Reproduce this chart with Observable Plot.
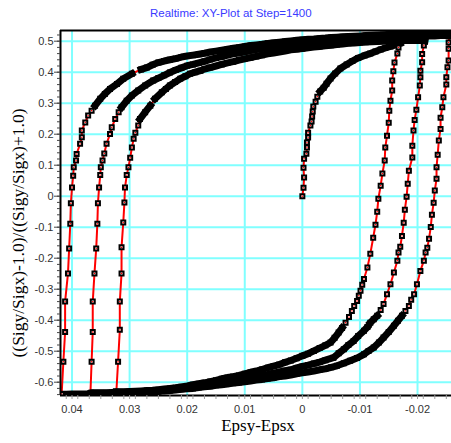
<!DOCTYPE html>
<html>
<head>
<meta charset="utf-8">
<script src="https://cdn.jsdelivr.net/npm/d3@7"></script>
<script src="https://cdn.jsdelivr.net/npm/@observablehq/plot@0.6"></script>
<style>
  html, body { margin: 0; padding: 0; background: #fff; }
  #chart { position: relative; width: 451px; height: 443px; overflow: hidden; background: #fff; }
  #title {
    position: relative; height: 22px; line-height: 22px; padding-top: 2px; box-sizing: border-box;
    font-family: "Liberation Sans", Arial, sans-serif; font-size: 11.5px; color: #3a3aff;
    white-space: nowrap; padding-left: 150px;
  }
  #chart svg { display: block; }
</style>
</head>
<body>
<div id="chart">
  <div id="title">Realtime: XY-Plot at Step=1400</div>
</div>
<script>
// Stress ratio vs. strain difference, sampled at each recorded step.
// Each branch is a list of [Epsy-Epsx, (Sigy/Sigx-1)/(Sigy/Sigx+1)] pairs.

// First loading from the origin
const loading0 = [
  [0, 0], [-0.0002, 0.027], [-0.0003, 0.060], [-0.0002, 0.092], [-0.0003, 0.121],
  [-0.0007, 0.137], [-0.0008, 0.157], [-0.0008, 0.173], [-0.0010, 0.189], [-0.0010, 0.205],
  [-0.0014, 0.228], [-0.0016, 0.241], [-0.0017, 0.257], [-0.0018, 0.273], [-0.0019, 0.289],
  [-0.0023, 0.305], [-0.0026, 0.321], [-0.0031, 0.338], [-0.0037, 0.350], [-0.0042, 0.363],
  [-0.0049, 0.380], [-0.0057, 0.396], [-0.0066, 0.412], [-0.0077, 0.425], [-0.0087, 0.436],
  [-0.0097, 0.446], [-0.0108, 0.454], [-0.0118, 0.460], [-0.0127, 0.467], [-0.0136, 0.473],
  [-0.0144, 0.478], [-0.0153, 0.483], [-0.0162, 0.488], [-0.0170, 0.493]
];

// First unloading
const unload1 = [
  [-0.0167, 0.480], [-0.0165, 0.460], [-0.0160, 0.431], [-0.0158, 0.403], [-0.0156, 0.373],
  [-0.0156, 0.341], [-0.0153, 0.308], [-0.0151, 0.276], [-0.0150, 0.237], [-0.0147, 0.195],
  [-0.0144, 0.157], [-0.0143, 0.115], [-0.0139, 0.073], [-0.0136, 0.034], [-0.0132, -0.008],
  [-0.0130, -0.050], [-0.0127, -0.092], [-0.0123, -0.134], [-0.0118, -0.186], [-0.0113, -0.230],
  [-0.0107, -0.267], [-0.0104, -0.286], [-0.0101, -0.305], [-0.0098, -0.321], [-0.0095, -0.338],
  [-0.0090, -0.354], [-0.0086, -0.370], [-0.0081, -0.390], [-0.0075, -0.408], [-0.0069, -0.425],
  [-0.0063, -0.440], [-0.0056, -0.457], [-0.0049, -0.472], [-0.004, -0.481], [-0.003, -0.490],
  [-0.002, -0.499], [-0.001, -0.508], [0, -0.515], [0.001, -0.523], [0.002, -0.530],
  [0.003, -0.536], [0.004, -0.543], [0.005, -0.548], [0.006, -0.553], [0.007, -0.559],
  [0.008, -0.564], [0.009, -0.568], [0.010, -0.573], [0.011, -0.578], [0.012, -0.582],
  [0.013, -0.585], [0.014, -0.589], [0.015, -0.594], [0.016, -0.598], [0.017, -0.602],
  [0.018, -0.605], [0.019, -0.608], [0.020, -0.612], [0.021, -0.615], [0.022, -0.618],
  [0.023, -0.620], [0.024, -0.622], [0.025, -0.624], [0.026, -0.626], [0.027, -0.627],
  [0.028, -0.628], [0.029, -0.629], [0.030, -0.630], [0.031, -0.631], [0.032, -0.631]
];

// First reloading
const reload1 = [
  [0.0323, -0.631], [0.0320, -0.534], [0.0317, -0.431], [0.0317, -0.340], [0.0314, -0.249],
  [0.0314, -0.165], [0.0311, -0.085], [0.0309, -0.020], [0.0308, 0.028], [0.0305, 0.068],
  [0.0302, 0.093], [0.0299, 0.124], [0.0296, 0.157], [0.0293, 0.185], [0.0290, 0.205],
  [0.0285, 0.228], [0.0282, 0.249], [0.0273, 0.271], [0.0264, 0.292], [0.0256, 0.314],
  [0.0244, 0.335], [0.0237, 0.346], [0.0230, 0.357], [0.0221, 0.368], [0.0212, 0.379],
  [0.0203, 0.387], [0.0195, 0.395], [0.0186, 0.400], [0.0177, 0.405], [0.017, 0.410],
  [0.016, 0.415], [0.015, 0.420], [0.014, 0.425], [0.013, 0.430], [0.012, 0.434],
  [0.011, 0.439], [0.010, 0.443], [0.009, 0.447], [0.008, 0.451], [0.007, 0.455],
  [0.006, 0.459], [0.005, 0.462], [0.004, 0.465], [0.003, 0.468], [0.002, 0.472],
  [0.001, 0.474], [0, 0.476], [-0.001, 0.479], [-0.002, 0.481], [-0.003, 0.483],
  [-0.004, 0.485], [-0.005, 0.487], [-0.006, 0.489], [-0.007, 0.491], [-0.008, 0.493],
  [-0.009, 0.494], [-0.010, 0.496], [-0.011, 0.497], [-0.012, 0.498], [-0.013, 0.499],
  [-0.014, 0.500], [-0.015, 0.501], [-0.016, 0.501], [-0.017, 0.502], [-0.018, 0.502],
  [-0.019, 0.502], [-0.020, 0.502], [-0.021, 0.502], [-0.0213, 0.501]
];

// Second unloading
const unload2 = [
  [-0.0211, 0.486], [-0.0208, 0.459], [-0.0208, 0.432], [-0.0205, 0.405], [-0.0205, 0.384],
  [-0.0204, 0.357], [-0.0201, 0.319], [-0.0198, 0.279], [-0.0195, 0.246], [-0.0193, 0.212],
  [-0.0191, 0.163], [-0.0191, 0.125], [-0.0185, 0.082], [-0.0183, 0.040], [-0.0181, -0.002],
  [-0.0178, -0.044], [-0.0176, -0.086], [-0.0173, -0.128], [-0.0170, -0.163], [-0.0167, -0.182],
  [-0.0165, -0.208], [-0.0159, -0.246], [-0.0153, -0.284], [-0.0147, -0.316], [-0.0141, -0.348],
  [-0.0136, -0.367], [-0.0130, -0.386], [-0.0124, -0.397], [-0.0118, -0.408], [-0.0113, -0.422],
  [-0.0107, -0.434], [-0.0097, -0.451], [-0.0089, -0.467], [-0.0080, -0.480], [-0.0072, -0.494],
  [-0.0063, -0.507], [-0.0054, -0.521], [-0.004, -0.529], [-0.003, -0.535], [-0.002, -0.540],
  [-0.001, -0.545], [0, -0.549], [0.001, -0.554], [0.002, -0.560], [0.003, -0.563],
  [0.004, -0.567], [0.005, -0.571], [0.006, -0.575], [0.007, -0.578], [0.008, -0.582],
  [0.009, -0.586], [0.010, -0.589], [0.011, -0.593], [0.012, -0.596], [0.013, -0.599],
  [0.014, -0.602], [0.015, -0.605], [0.016, -0.608], [0.017, -0.610], [0.018, -0.613],
  [0.019, -0.616], [0.020, -0.619], [0.021, -0.621], [0.022, -0.623], [0.023, -0.625],
  [0.024, -0.626], [0.025, -0.628], [0.026, -0.629], [0.027, -0.630], [0.028, -0.631],
  [0.029, -0.631], [0.030, -0.632], [0.031, -0.633], [0.032, -0.633], [0.033, -0.633],
  [0.034, -0.634], [0.035, -0.634], [0.036, -0.634], [0.0367, -0.634]
];

// Second reloading
const reload2 = [
  [0.0368, -0.635], [0.0366, -0.534], [0.0364, -0.438], [0.0364, -0.340], [0.0361, -0.249],
  [0.0358, -0.169], [0.0356, -0.089], [0.0355, -0.023], [0.0353, 0.028], [0.0351, 0.068],
  [0.0350, 0.093], [0.0347, 0.115], [0.0344, 0.138], [0.0340, 0.169], [0.0334, 0.201],
  [0.0331, 0.222], [0.0325, 0.249], [0.0319, 0.271], [0.0314, 0.287], [0.0305, 0.308],
  [0.0296, 0.325], [0.0285, 0.341], [0.0273, 0.357], [0.0259, 0.373], [0.025, 0.381],
  [0.024, 0.390], [0.023, 0.399], [0.022, 0.407], [0.021, 0.414], [0.020, 0.421],
  [0.019, 0.425], [0.018, 0.430], [0.017, 0.435], [0.016, 0.441], [0.015, 0.446],
  [0.014, 0.450], [0.013, 0.455], [0.012, 0.459], [0.011, 0.462], [0.010, 0.466],
  [0.009, 0.470], [0.008, 0.473], [0.007, 0.476], [0.006, 0.479], [0.005, 0.482],
  [0.004, 0.484], [0.003, 0.486], [0.002, 0.489], [0.001, 0.491], [0, 0.493],
  [-0.001, 0.495], [-0.002, 0.497], [-0.003, 0.499], [-0.004, 0.500], [-0.005, 0.502],
  [-0.006, 0.503], [-0.007, 0.505], [-0.008, 0.506], [-0.009, 0.507], [-0.010, 0.509],
  [-0.011, 0.510], [-0.012, 0.511], [-0.013, 0.512], [-0.014, 0.513], [-0.015, 0.514],
  [-0.016, 0.515], [-0.017, 0.515], [-0.018, 0.516], [-0.019, 0.516], [-0.020, 0.516],
  [-0.021, 0.517], [-0.022, 0.517], [-0.023, 0.517], [-0.024, 0.518], [-0.025, 0.518],
  [-0.0255, 0.517]
];

// Third unloading
const unload3 = [
  [-0.0254, 0.496], [-0.0254, 0.476], [-0.0254, 0.438], [-0.0252, 0.416], [-0.0250, 0.384],
  [-0.0250, 0.360], [-0.0245, 0.319], [-0.0243, 0.287], [-0.0240, 0.253], [-0.0240, 0.217],
  [-0.0237, 0.180], [-0.0235, 0.134], [-0.0233, 0.093], [-0.0233, 0.056], [-0.0230, 0.018],
  [-0.0228, -0.021], [-0.0225, -0.060], [-0.0223, -0.099], [-0.0220, -0.137], [-0.0217, -0.166],
  [-0.0214, -0.182], [-0.0211, -0.208], [-0.0205, -0.241], [-0.0199, -0.284], [-0.0194, -0.316],
  [-0.0189, -0.334], [-0.0185, -0.354], [-0.0179, -0.370], [-0.0173, -0.386], [-0.0166, -0.402],
  [-0.0159, -0.418], [-0.0150, -0.438], [-0.0141, -0.456], [-0.0133, -0.472], [-0.0124, -0.488],
  [-0.0115, -0.499], [-0.0107, -0.510], [-0.0095, -0.522], [-0.0083, -0.531], [-0.0072, -0.539],
  [-0.0060, -0.547], [-0.005, -0.552], [-0.004, -0.557], [-0.003, -0.560], [-0.002, -0.564],
  [-0.001, -0.567], [0, -0.570], [0.001, -0.573], [0.002, -0.577], [0.003, -0.580],
  [0.004, -0.582], [0.005, -0.586], [0.006, -0.588], [0.007, -0.591], [0.008, -0.593],
  [0.009, -0.596], [0.010, -0.599], [0.011, -0.601], [0.012, -0.603], [0.013, -0.606],
  [0.014, -0.608], [0.015, -0.610], [0.016, -0.613], [0.017, -0.615], [0.018, -0.617],
  [0.019, -0.620], [0.020, -0.621], [0.021, -0.623], [0.022, -0.625], [0.023, -0.627],
  [0.024, -0.628], [0.025, -0.630], [0.026, -0.631], [0.027, -0.632], [0.028, -0.633],
  [0.029, -0.634], [0.030, -0.634], [0.031, -0.635], [0.032, -0.636], [0.033, -0.636],
  [0.034, -0.637], [0.035, -0.637], [0.036, -0.637], [0.037, -0.638], [0.038, -0.638],
  [0.039, -0.638], [0.040, -0.638], [0.041, -0.639], [0.0418, -0.639]
];

// Third reloading (in progress at this step)
const reload3 = [
  [0.0418, -0.638], [0.0415, -0.534], [0.0412, -0.438], [0.0412, -0.340], [0.0407, -0.249],
  [0.0405, -0.169], [0.0403, -0.089], [0.0402, -0.023], [0.0400, 0.028], [0.0398, 0.066],
  [0.0397, 0.093], [0.0393, 0.115], [0.0392, 0.136], [0.0386, 0.169], [0.0383, 0.190],
  [0.0383, 0.212], [0.0377, 0.238], [0.0372, 0.260], [0.0366, 0.276], [0.0360, 0.292],
  [0.0351, 0.314], [0.0343, 0.330], [0.0334, 0.346], [0.0322, 0.362], [0.0311, 0.379],
  [0.0296, 0.395], [0.028, 0.409], [0.027, 0.415], [0.026, 0.424], [0.025, 0.431],
  [0.024, 0.436], [0.023, 0.440], [0.022, 0.444], [0.021, 0.449], [0.020, 0.452],
  [0.019, 0.455], [0.018, 0.458], [0.017, 0.461], [0.016, 0.465], [0.015, 0.468],
  [0.014, 0.471], [0.013, 0.474], [0.012, 0.477], [0.011, 0.480], [0.010, 0.483],
  [0.009, 0.486], [0.008, 0.488], [0.007, 0.490], [0.006, 0.493], [0.005, 0.495],
  [0.004, 0.497], [0.003, 0.499], [0.002, 0.501], [0.001, 0.503], [0, 0.505],
  [-0.001, 0.506], [-0.002, 0.507], [-0.003, 0.509], [-0.004, 0.510], [-0.005, 0.512],
  [-0.006, 0.513], [-0.007, 0.514], [-0.008, 0.515], [-0.009, 0.516], [-0.010, 0.517],
  [-0.011, 0.518], [-0.012, 0.519], [-0.013, 0.520], [-0.014, 0.521], [-0.015, 0.522],
  [-0.016, 0.523], [-0.017, 0.523], [-0.018, 0.524], [-0.019, 0.525], [-0.020, 0.525],
  [-0.021, 0.526], [-0.022, 0.527], [-0.023, 0.527], [-0.024, 0.527], [-0.025, 0.528],
  [-0.026, 0.528]
];

// Axis ticks
const xTicks = [0.04, 0.03, 0.02, 0.01, 0, -0.01, -0.02];
const yTicks = [0.5, 0.4, 0.3, 0.2, 0.1, 0, -0.1, -0.2, -0.3, -0.4, -0.5, -0.6];
const xMinorTicks = d3.range(-25, 42, 2).map(d => d / 1000);
const yMinorTicks = d3.range(-64, 54, 2).map(d => d / 100);

const xTitle = "Epsy-Epsx";
const yTitle = "((Sigy/Sigx)-1.0)/((Sigy/Sigx)+1.0)";

// Whole loading history as one ordered path
const history = [loading0, unload1, reload1, unload2, reload2, unload3, reload3]
  .flat()
  .map(([eps, ratio]) => ({eps, ratio, inBand: false}));

const width = 451, height = 421;
const margin = {left: 60, right: 0, top: 8, bottom: 48};
const xDomain = [0.0420, -0.0259];
const yDomain = [-0.6429, 0.5345];

// Where consecutive steps crowd together along a flat stretch, the square
// markers merge into a solid black band; collect those runs of the path.
const sx = Plot.scale({x: {domain: xDomain, range: [margin.left, width - margin.right]}});
const sy = Plot.scale({y: {domain: yDomain, range: [height - margin.bottom, margin.top]}});
const bands = [];
let run = -1, wasDense = false;
for (let i = 1; i < history.length; i++) {
  const a = history[i - 1], b = history[i];
  const dxp = Math.abs(sx.apply(b.eps) - sx.apply(a.eps));
  const dyp = Math.abs(sy.apply(b.ratio) - sy.apply(a.ratio));
  const dense = Math.hypot(dxp, dyp) < 10 && dxp >= 0.7 * dyp;
  if (dense) {
    a.inBand = b.inBand = true;
    if (!wasDense) { run++; bands.push({...a, run}); }
    bands.push({...b, run});
  }
  wasDense = dense;
}
const bandSteps = history.filter(d => d.inBand);
const openSteps = history.filter(d => !d.inBand);

const sans = "'Liberation Sans', Arial, Helvetica, sans-serif";
const serif = "'Liberation Serif', 'Times New Roman', Times, serif";

const chart = Plot.plot({
  width,
  height,
  marginLeft: margin.left,
  marginRight: margin.right,
  marginTop: margin.top,
  marginBottom: margin.bottom,
  x: {domain: xDomain, label: null},
  y: {domain: yDomain, label: null},
  style: {fontFamily: sans, background: "#fff", overflow: "visible"},
  marks: [
    Plot.gridX(xTicks, {stroke: "#80ffff", strokeOpacity: 1, strokeWidth: 2}),
    Plot.gridY(yTicks, {stroke: "#80ffff", strokeOpacity: 1, strokeWidth: 2}),
    Plot.line(history, {x: "eps", y: "ratio", stroke: "#ff0000", strokeWidth: 2, clip: true}),
    Plot.line(bands, {
      x: "eps", y: "ratio", z: "run", stroke: "#000", strokeWidth: 7,
      strokeLinecap: "square", clip: true
    }),
    Plot.dot(bandSteps, {
      x: "eps", y: "ratio", symbol: "square", r: 2.26,
      stroke: "#000", strokeWidth: 2, fill: "none", clip: true
    }),
    Plot.dot(openSteps, {
      x: "eps", y: "ratio", symbol: "square", r: 2.26,
      stroke: "#000", strokeWidth: 2, fill: "#fff", clip: true
    }),
    Plot.dot(openSteps, {
      x: "eps", y: "ratio", symbol: "square", r: 0.75, fill: "#ff0000", clip: true
    }),
    Plot.ruleX([xDomain[0]], {stroke: "#000", strokeWidth: 2}),
    Plot.ruleY([yDomain[1]], {stroke: "#000", strokeWidth: 2}),
    Plot.ruleY([yDomain[0]], {stroke: "#000", strokeWidth: 2}),
    Plot.axisY(yMinorTicks, {tickSize: 3, stroke: "#444", tickFormat: () => "", label: null}),
    Plot.axisY(yTicks, {
      tickSize: 6, tickPadding: 1, stroke: "#444", fill: "#333", fontSize: 11, label: null,
      tickFormat: d => d === 0 ? "0" : d.toFixed(1)
    }),
    Plot.axisX(xMinorTicks, {tickSize: 4, stroke: "#999", tickFormat: () => "", label: null}),
    Plot.axisX(xTicks, {
      tickSize: 4, tickPadding: 6, stroke: "#999", fill: "#333", fontSize: 11, label: null,
      tickFormat: d => d === 0 ? "0" : d.toFixed(2)
    }),
    Plot.text([xTitle], {
      frameAnchor: "bottom", dx: 2, dy: 35, fontSize: 17, fontFamily: serif, fill: "#000"
    }),
    Plot.text([yTitle], {
      frameAnchor: "left", textAnchor: "middle", rotate: -90, dx: -42, dy: 20,
      fontSize: 17.5, fontFamily: serif, fill: "#000"
    })
  ]
});

document.getElementById("chart").appendChild(chart);
</script>
</body>
</html>
